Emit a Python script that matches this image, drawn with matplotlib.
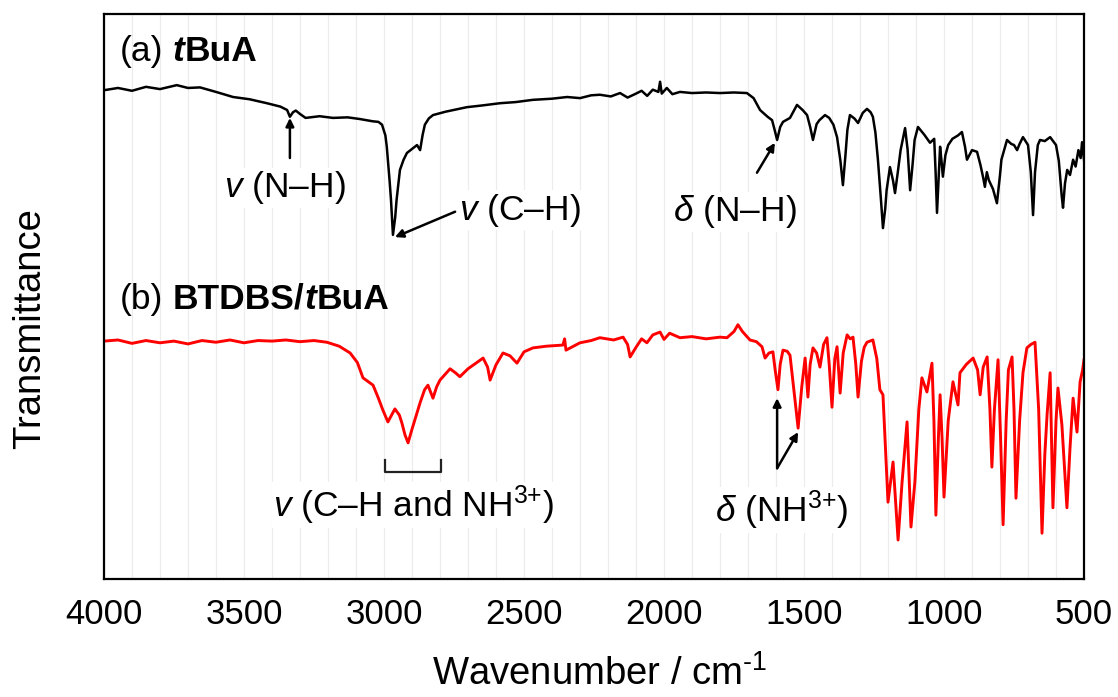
import matplotlib
matplotlib.use('Agg')
import matplotlib.pyplot as plt
import numpy as np
from matplotlib.ticker import MultipleLocator
from matplotlib.offsetbox import TextArea, HPacker, AnnotationBbox

plt.rcParams['font.family'] = ['Liberation Sans', 'DejaVu Sans']
plt.rcParams['mathtext.fontset'] = 'custom'
plt.rcParams['mathtext.rm'] = 'Liberation Sans'
plt.rcParams['mathtext.it'] = 'Liberation Sans:italic'
plt.rcParams['mathtext.bf'] = 'Liberation Sans:bold'

### (a) tBuA spectrum (wavenumber / cm-1, transmittance a.u.)
wn_a = [4000, 3950, 3900, 3850, 3800, 3740, 3700, 3657, 3600, 3539, 3480, 3418, 3370, 3346,
        3336, 3325, 3315, 3300, 3280, 3230, 3182, 3130, 3086, 3040, 3020, 3007, 2995, 2990,
        2980, 2975, 2968, 2960, 2955, 2943, 2930, 2918, 2895, 2882, 2871, 2862, 2854, 2840,
        2825, 2780, 2704, 2650, 2586, 2530, 2468, 2400, 2346, 2300, 2260, 2229, 2190, 2157,
        2130, 2100, 2080, 2060, 2040, 2020, 2014, 2008, 1990, 1970, 1943, 1900, 1850, 1800,
        1750, 1704, 1680, 1657, 1630, 1614, 1605, 1596, 1585, 1575, 1550, 1525, 1505, 1489,
        1478, 1468, 1455, 1445, 1425, 1410, 1395, 1382, 1370, 1361, 1352, 1345, 1336, 1320,
        1307, 1290, 1275, 1262, 1254, 1245, 1236, 1225, 1218, 1210, 1205, 1193, 1182, 1175,
        1165, 1155, 1139, 1130, 1121, 1112, 1105, 1093, 1080, 1070, 1050, 1035, 1030, 1025,
        1019, 1014, 1009, 1004, 995, 985, 970, 950, 936, 925, 918, 900, 882, 870, 860, 854,
        847, 840, 825, 811, 800, 795, 775, 760, 750, 739, 730, 718, 700, 690, 682, 675, 665,
        657, 640, 621, 600, 590, 580, 575, 568, 560, 550, 539, 530, 520, 512, 507, 500]
t_a = [86.5, 86.9, 86.4, 87.1, 86.7, 87.4, 86.9, 87.0, 86.2, 85.3, 84.9, 84.2, 83.6, 83.0,
       81.8, 82.6, 82.9, 82.3, 81.6, 81.9, 81.6, 81.7, 81.4, 81.0, 80.9, 80.4, 78.5, 76.5,
       70.5, 67.1, 60.9, 64.0, 67.1, 72.4, 74.2, 75.4, 76.3, 76.8, 75.9, 78.6, 80.4, 81.5,
       82.1, 82.7, 83.5, 83.8, 84.2, 84.4, 84.8, 85.0, 85.3, 85.1, 85.6, 85.7, 85.4, 86.0,
       85.2, 85.9, 86.4, 85.5, 86.6, 86.2, 88.0, 85.9, 86.9, 85.8, 86.2, 86.0, 86.1, 86.0,
       86.1, 86.0, 85.1, 83.0, 81.8, 81.2, 79.5, 77.7, 80.0, 80.9, 81.6, 83.9, 83.0, 82.1,
       80.0, 77.7, 80.5, 81.2, 82.1, 81.6, 80.4, 78.2, 74.0, 69.7, 75.0, 79.5, 82.1, 81.5,
       80.7, 82.5, 83.2, 82.6, 81.8, 79.0, 74.2, 67.0, 62.1, 65.5, 68.8, 72.9, 70.5, 68.3,
       72.0, 75.9, 79.8, 76.0, 68.8, 73.5, 77.7, 80.0, 79.2, 78.6, 77.2, 77.9, 72.0, 64.8,
       71.0, 76.5, 74.0, 71.2, 75.0, 76.8, 77.9, 78.5, 79.1, 76.5, 74.2, 75.9, 75.6, 73.3,
       71.0, 69.4, 72.0, 70.6, 69.0, 66.5, 71.5, 74.2, 77.7, 77.0, 76.8, 75.9, 77.0, 78.2,
       76.8, 72.0, 64.4, 72.0, 76.8, 77.7, 77.5, 78.2, 76.8, 74.0, 68.0, 65.7, 70.0, 72.4,
       71.5, 74.2, 73.0, 75.9, 74.5, 77.3, 74.2]

### (b) BTDBS/tBuA spectrum
wn_b = [4000, 3950, 3900, 3850, 3800, 3750, 3700, 3650, 3600, 3550, 3500, 3450, 3400, 3350,
        3300, 3250, 3204, 3160, 3121, 3095, 3075, 3039, 3020, 3004, 2986, 2961, 2945, 2936,
        2925, 2914, 2900, 2890, 2871, 2855, 2843, 2825, 2812, 2800, 2764, 2745, 2729, 2700,
        2680, 2646, 2630, 2621, 2600, 2575, 2550, 2525, 2500, 2468, 2420, 2361, 2355, 2350,
        2300, 2260, 2229, 2180, 2146, 2130, 2121, 2100, 2080, 2061, 2040, 2014, 2000, 1980,
        1943, 1900, 1850, 1800, 1775, 1750, 1736, 1720, 1693, 1670, 1650, 1639, 1625, 1611,
        1603, 1593, 1585, 1575, 1560, 1550, 1535, 1521, 1508, 1496, 1486, 1478, 1468, 1455,
        1443, 1430, 1418, 1410, 1400, 1390, 1382, 1371, 1360, 1346, 1335, 1325, 1315, 1307,
        1295, 1285, 1275, 1254, 1240, 1229, 1218, 1200, 1182, 1164, 1150, 1132, 1118, 1104,
        1090, 1079, 1061, 1043, 1036, 1029, 1020, 1014, 1007, 1000, 985, 968, 950, 943, 920,
        896, 880, 871, 860, 846, 836, 829, 820, 807, 798, 789, 778, 770, 757, 750, 743, 730,
        718, 704, 690, 675, 662, 650, 640, 632, 621, 611, 600, 593, 579, 570, 561, 550, 539,
        525, 514, 505, 500]
t_b = [42.1, 42.3, 41.7, 42.2, 41.8, 42.1, 41.6, 42.2, 41.9, 42.3, 41.8, 42.2, 42.1, 42.3,
       42.0, 42.2, 41.9, 41.2, 40.0, 38.3, 35.6, 34.3, 32.0, 29.9, 27.8, 30.1, 29.0, 27.6,
       25.5, 24.1, 26.5, 28.1, 31.2, 33.5, 34.3, 32.0, 34.0, 35.2, 37.2, 36.5, 35.8, 37.2,
       37.9, 39.1, 37.5, 35.2, 37.9, 40.0, 39.5, 38.2, 40.2, 40.9, 41.2, 41.4, 42.5, 40.5,
       41.8, 42.2, 42.7, 42.3, 42.8, 41.5, 39.3, 41.0, 42.5, 41.8, 43.2, 43.7, 42.4, 43.5,
       42.7, 42.9, 42.5, 42.8, 42.7, 43.8, 45.0, 43.8, 42.3, 42.0, 41.1, 39.1, 40.0, 40.2,
       37.0, 33.5, 38.0, 40.5, 40.3, 39.6, 33.0, 26.7, 34.0, 39.1, 32.2, 38.0, 40.9, 40.0,
       37.5, 41.5, 42.7, 38.0, 30.4, 39.0, 41.1, 32.9, 40.0, 43.2, 42.5, 42.8, 38.0, 32.2,
       38.5, 41.0, 41.9, 42.3, 39.0, 33.5, 32.6, 13.6, 20.7, 6.9, 17.0, 27.8, 9.2, 17.2,
       30.0, 35.6, 33.1, 38.2, 28.0, 11.3, 25.0, 32.6, 25.0, 14.5, 28.0, 34.9, 30.8, 36.5, 38.0,
       39.1, 37.0, 32.6, 37.5, 39.3, 30.0, 19.8, 30.0, 38.8, 25.0, 9.6, 28.0, 37.0, 39.3, 30.0, 14.3, 28.0,
       36.5, 40.9, 41.5, 41.9, 30.0, 8.1, 22.0, 29.0, 36.5, 12.6, 28.0, 33.8, 27.3, 20.0, 12.6, 23.2, 32.0,
       26.0, 34.9, 37.0, 38.8]

fs_tick = 25
fs_label = 27.5
fs_note = 25.5

fig = plt.figure(figsize=(11.18, 6.97), dpi=100)
ax = fig.add_axes([0.093, 0.1693, 0.8766, 0.8107])

ax.plot(wn_a, t_a, color='black', lw=1.8)
ax.plot(wn_b, t_b, color='#ff0000', lw=2.1)

ax.set_xlim(4000, 500)
ax.set_ylim(0, 100)
ax.xaxis.set_major_locator(MultipleLocator(500))
ax.xaxis.set_minor_locator(MultipleLocator(100))
ax.set_yticks([])
ax.grid(axis='x', which='both', color='#ececec', lw=0.8)
ax.set_axisbelow(True)
ax.tick_params(axis='x', which='both', length=0, labelsize=fs_tick, pad=14)
for s in ax.spines.values():
    s.set_linewidth(1.6)

ax.set_xlabel('Wavenumber / cm$^{\u2010 1}$', fontsize=fs_label)
ax.xaxis.set_label_coords(0.506, -0.135)
ax.set_ylabel('Transmittance', fontsize=fs_label)
ax.yaxis.set_label_coords(-0.057, 0.444)

### panel labels with mixed bold / bold-italic
def panel_label(parts, xy):
    boxes = [TextArea(txt, textprops=dict(fontsize=fs_note, fontweight=w, fontstyle=st))
             for txt, w, st in parts]
    head = boxes[0]
    tail = HPacker(children=boxes[1:], sep=0, pad=0)
    box = HPacker(children=[head, tail], sep=7, pad=0, align='baseline')
    ab = AnnotationBbox(box, xy, xycoords='axes fraction', box_alignment=(0, 0.5),
                        frameon=False, pad=0)
    ax.add_artist(ab)

panel_label([('(a)', 'normal', 'normal'), ('t', 'bold', 'italic'),
             ('BuA', 'bold', 'normal')], (0.016, 0.934))
panel_label([('(b)', 'normal', 'normal'), ('BTDBS/', 'bold', 'normal'),
             ('t', 'bold', 'italic'), ('BuA', 'bold', 'normal')], (0.016, 0.495))

arrow = dict(arrowstyle='-|>', color='black', lw=1.8, mutation_scale=12, shrinkA=0, shrinkB=0)
box = dict(facecolor='white', edgecolor='none', pad=1)

# (a) annotations
ax.annotate('', xy=(3336, 81.6), xytext=(3336, 74.5), arrowprops=arrow)
ax.text(3354, 69.2, r'$v$ (N–H)', fontsize=fs_note, ha='center', va='center', bbox=box)
ax.annotate('', xy=(2961, 60.5), xytext=(2746, 65.0), arrowprops=arrow)
ax.text(2514, 65.3, r'$v$ (C–H)', fontsize=fs_note, ha='center', va='center', bbox=box)
ax.annotate('', xy=(1604, 77.2), xytext=(1668, 71.9), arrowprops=arrow)
ax.text(1746, 65.0, r'$\delta$ (N–H)', fontsize=fs_note, ha='center', va='center', bbox=box)

# (b) annotations
ax.plot([2996, 2996, 2796, 2796], [21.1, 18.9, 18.9, 21.1], color='#222222', lw=1.6)
ax.text(2893, 13.1, r'$v$ (C–H and NH$^{3{+}}$)', fontsize=fs_note, ha='center', va='center',
        bbox=box)
ax.annotate('', xy=(1596, 32.0), xytext=(1596, 19.6), arrowprops=arrow)
ax.annotate('', xy=(1521, 26.0), xytext=(1596, 19.6), arrowprops=arrow)
ax.text(1579, 12.2, r'$\delta$ (NH$^{3{+}}$)', fontsize=fs_note, ha='center', va='center',
        bbox=box)

plt.savefig('out.png', dpi=100)
